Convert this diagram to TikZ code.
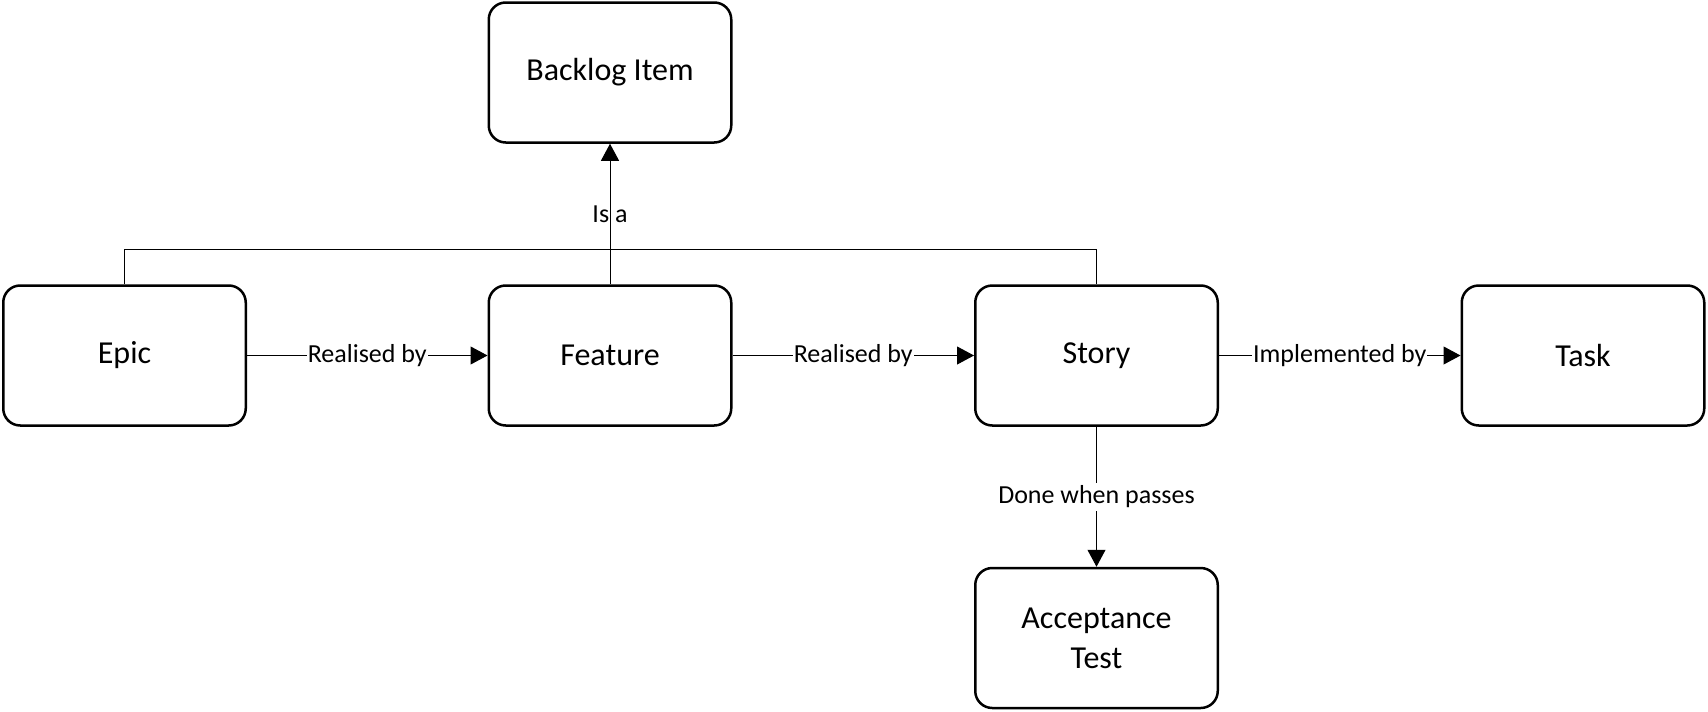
\documentclass[tikz,border=0pt]{standalone}
\usepackage{fontspec}
\setmainfont{Carlito}
\usetikzlibrary{arrows.meta}

\tikzset{
  item/.style={draw, line width=2.5pt, rounded corners=17pt, minimum width=242.5pt,
    minimum height=140pt, align=center, font=\fontsize{32}{40}\selectfont},
  link/.style={line width=1pt, -{Triangle[length=17pt,width=18pt]}},
  linklabel/.style={fill=white, inner xsep=1pt, inner ysep=3pt, font=\fontsize{26}{30}\selectfont}
}

\begin{document}
\begin{tikzpicture}[x=1pt, y=-1pt]

    \useasboundingbox (0,0) rectangle (1708,712);

    % Backlog item on top
    \node[item] (backlog) at (610,72.5) {Backlog Item};

    % Main row
    \node[item] (epic) at (124.5,355.5) {Epic};
    \node[item] (feature) at (610,355.5) {Feature};
    \node[item] (story) at (1096.5,355.5) {Story};
    \node[item] (task) at (1583,355.5) {Task};

    % Acceptance test below the story
    \node[item] (test) at (1096.5,638) {Acceptance\\Test};

    % Realised / implemented links
    \draw[link] (epic) -- node[linklabel] {Realised by} (feature);
    \draw[link] (feature) -- node[linklabel] {Realised by} (story);
    \draw[link] (story) -- node[linklabel] {Implemented by} (task);

    % Done when passes
    \draw[link] (story) -- node[linklabel] {Done when passes} (test);

    % Is a (shared bus to the backlog item)
    \coordinate (busleft) at (124.5,249);
    \coordinate (busright) at (1096.5,249);
    \draw[line width=1pt] (epic.north) -- (busleft) -- (busright) -- (story.north);
    \draw[link] (feature) -- node[linklabel, fill=none] {Is a} (backlog);

\end{tikzpicture}
\end{document}
